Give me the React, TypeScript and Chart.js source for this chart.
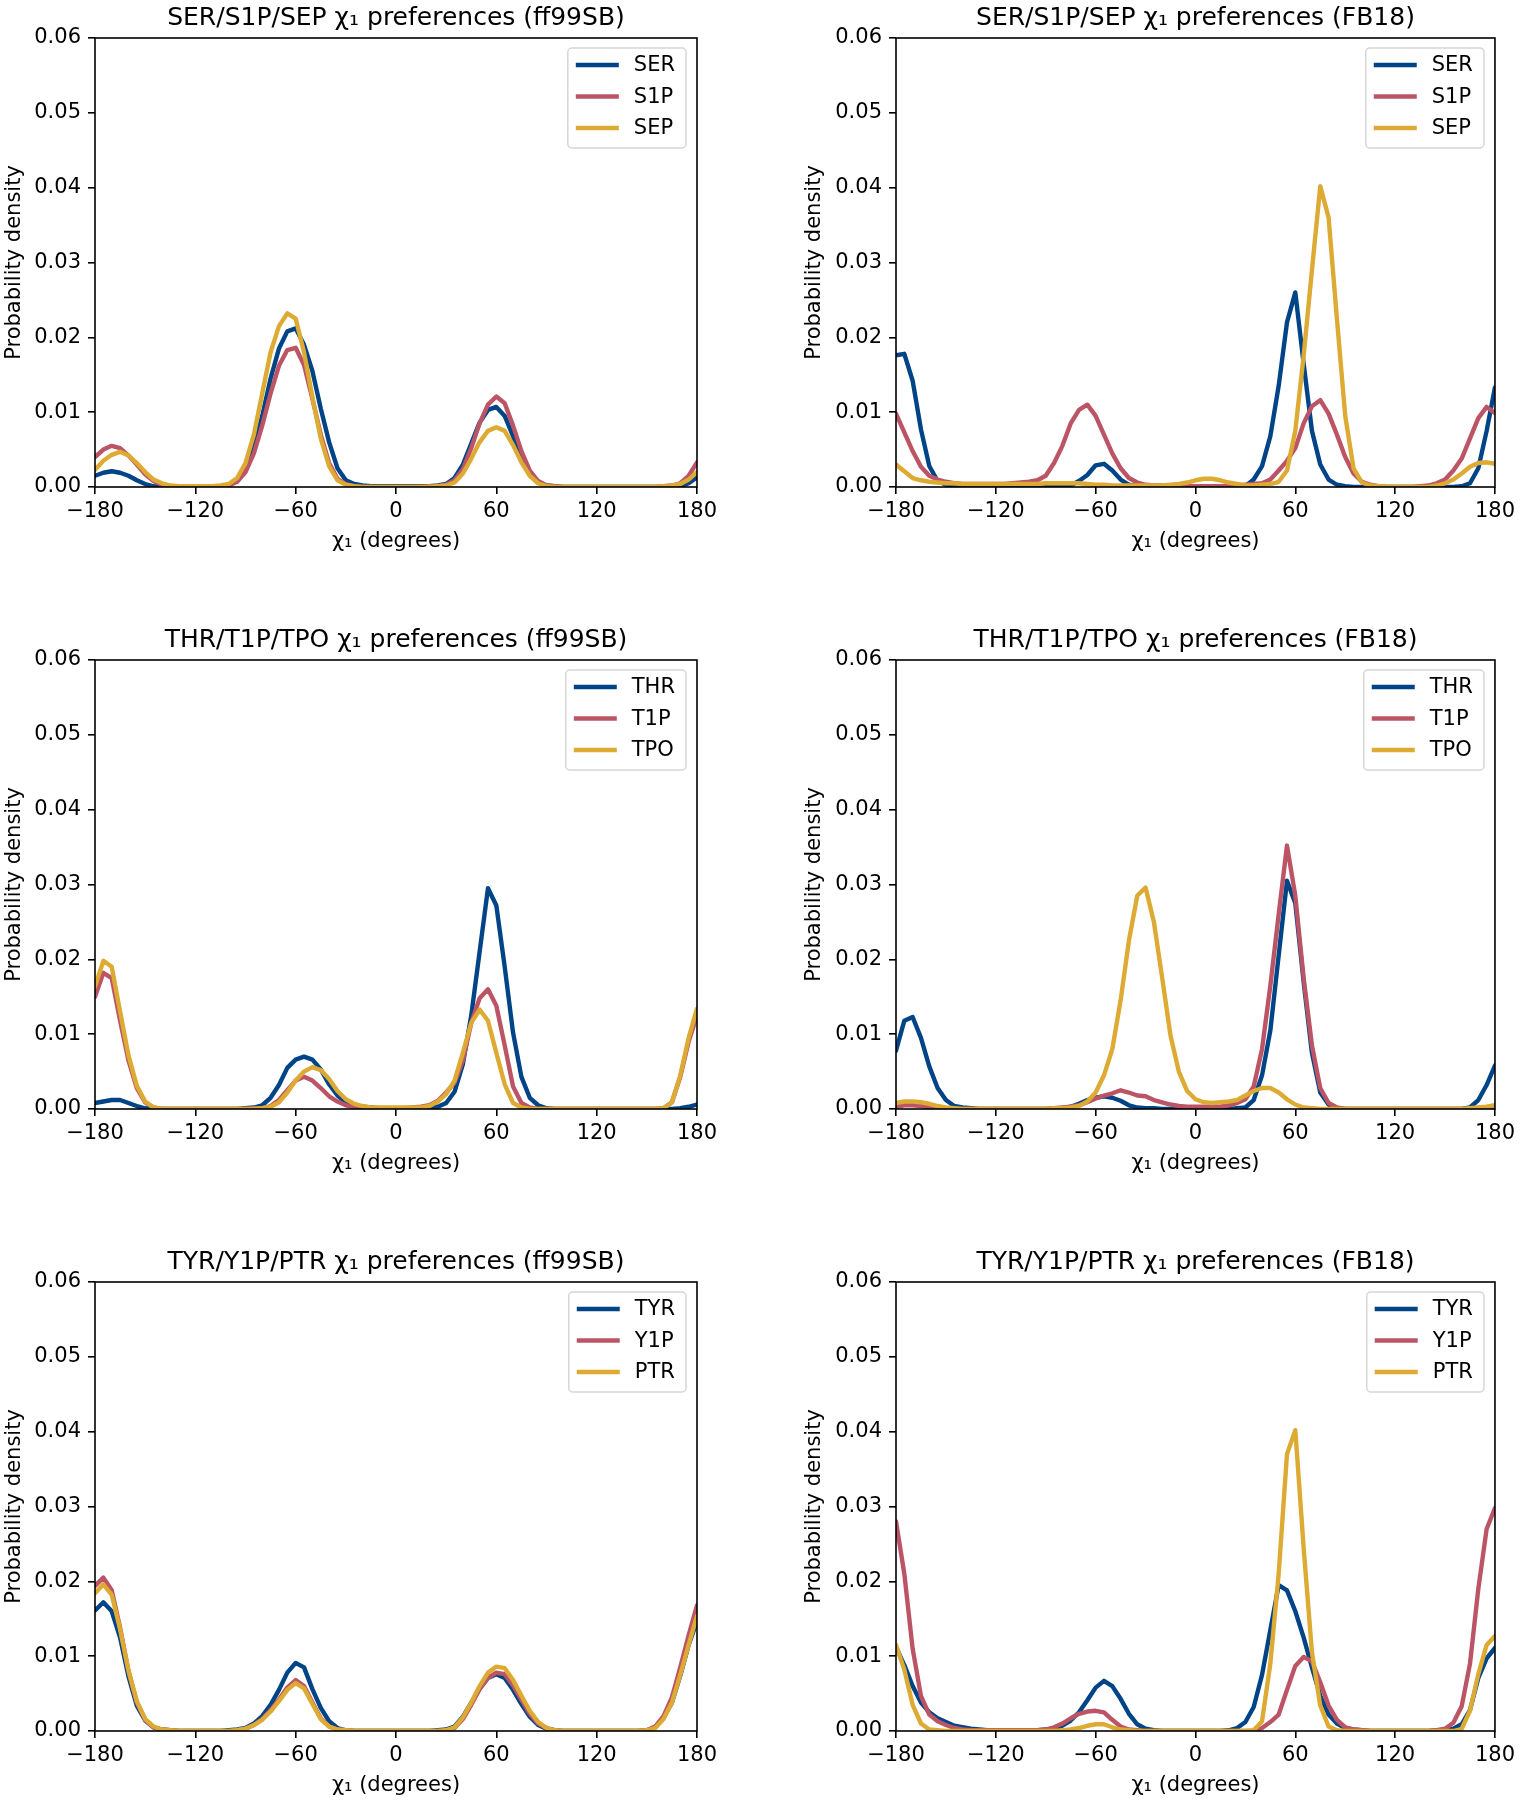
import React, { useEffect, useRef } from "react";
import { Chart, registerables } from "chart.js";

Chart.register(...registerables);

const FONT = "DejaVu Sans";
Chart.defaults.font.family = FONT;
Chart.defaults.color = "#000";

// chi1 angle grid (degrees)
const CHI = [
  -180, -175, -170, -165, -160, -155, -150, -145, -140, -135,
  -130, -125, -120, -115, -110, -105, -100, -95, -90, -85,
  -80, -75, -70, -65, -60, -55, -50, -45, -40, -35,
  -30, -25, -20, -15, -10, -5, 0, 5, 10, 15,
  20, 25, 30, 35, 40, 45, 50, 55, 60, 65,
  70, 75, 80, 85, 90, 95, 100, 105, 110, 115,
  120, 125, 130, 135, 140, 145, 150, 155, 160, 165,
  170, 175, 180,
];

const X_TICKS = [-180, -120, -60, 0, 60, 120, 180];
const Y_TICKS = [0, 0.01, 0.02, 0.03, 0.04, 0.05, 0.06];

// ---------- SER / S1P / SEP (ff99SB) ----------
const SER_FF = [
  0.0015, 0.0019, 0.0021, 0.0019, 0.0015, 0.0009, 0.0004, 0.0001, 0, 0,
  0, 0, 0, 0, 0, 0.0001, 0.0003, 0.0009, 0.0025, 0.0055,
  0.0095, 0.0145, 0.0185, 0.0208, 0.0212, 0.019, 0.0155, 0.0105, 0.006, 0.0025,
  0.0009, 0.0004, 0.0002, 0.0001, 0.0001, 0.0001, 0.0001, 0.0001, 0.0001, 0.0001,
  0.0001, 0.0002, 0.0004, 0.0012, 0.003, 0.0058, 0.0086, 0.0103, 0.0107, 0.0095,
  0.0068, 0.0038, 0.0016, 0.0006, 0.0002, 0.0001, 0, 0, 0, 0,
  0, 0, 0, 0, 0, 0, 0, 0, 0, 0.0001,
  0.0001, 0.0005, 0.0013,
];
const S1P_FF = [
  0.004, 0.005, 0.0055, 0.0052, 0.0042, 0.003, 0.0017, 0.0008, 0.0003, 0.0001,
  0, 0, 0, 0, 0, 0.0001, 0.0002, 0.0007, 0.002, 0.0045,
  0.0082, 0.0125, 0.0162, 0.0183, 0.0186, 0.0163, 0.0118, 0.007, 0.0032, 0.0011,
  0.0004, 0.0001, 0, 0, 0, 0, 0, 0, 0, 0,
  0.0001, 0.0001, 0.0003, 0.0009, 0.0024, 0.0052, 0.0085, 0.011, 0.0121, 0.0112,
  0.0082, 0.0048, 0.0022, 0.0008, 0.0002, 0.0001, 0, 0, 0, 0,
  0, 0, 0, 0, 0, 0, 0, 0, 0.0001, 0.0002,
  0.0005, 0.0015, 0.0033,
];
const SEP_FF = [
  0.0023, 0.0035, 0.0043, 0.0047, 0.0042, 0.0032, 0.002, 0.001, 0.0005, 0.0002,
  0.0001, 0.0001, 0.0001, 0.0001, 0.0001, 0.0002, 0.0004, 0.0012, 0.0032, 0.007,
  0.0125, 0.018, 0.0215, 0.0232, 0.0225, 0.018, 0.012, 0.0065, 0.0028, 0.0009,
  0.0003, 0.0001, 0, 0, 0, 0, 0, 0, 0, 0,
  0, 0.0001, 0.0002, 0.0006, 0.0018, 0.0038, 0.006, 0.0075, 0.008, 0.0075,
  0.0056, 0.0033, 0.0015, 0.0005, 0.0001, 0, 0, 0, 0, 0,
  0, 0, 0, 0, 0, 0, 0, 0, 0.0001, 0.0002,
  0.0004, 0.001, 0.002,
];

// ---------- SER / S1P / SEP (FB18) ----------
const SER_FB = [
  0.0176, 0.0178, 0.0142, 0.0077, 0.0028, 0.0008, 0.0003, 0.0001, 0, 0,
  0, 0, 0, 0, 0, 0, 0, 0, 0, 0,
  0, 0.0002, 0.0008, 0.0016, 0.0029, 0.0031, 0.0022, 0.001, 0.0003, 0.0001,
  0, 0, 0, 0, 0, 0, 0, 0, 0, 0,
  0, 0, 0.0001, 0.001, 0.0028, 0.0068, 0.0135, 0.022, 0.026, 0.0165,
  0.0075, 0.003, 0.001, 0.0003, 0.0001, 0, 0, 0, 0, 0,
  0, 0, 0, 0, 0, 0, 0, 0, 0.0001, 0.0005,
  0.0025, 0.0075, 0.0133,
];
const S1P_FB = [
  0.0098, 0.0073, 0.0048, 0.0027, 0.0015, 0.001, 0.0007, 0.0005, 0.0004, 0.0004,
  0.0004, 0.0004, 0.0004, 0.0004, 0.0005, 0.0006, 0.0007, 0.0009, 0.0015, 0.0032,
  0.0055, 0.0085, 0.0103, 0.011, 0.0095, 0.007, 0.0045, 0.0025, 0.0012, 0.0006,
  0.0003, 0.0002, 0.0002, 0.0001, 0.0001, 0.0001, 0.0001, 0.0001, 0.0001, 0.0001,
  0.0001, 0.0002, 0.0003, 0.0004, 0.0005, 0.001, 0.0022, 0.0035, 0.0052, 0.0085,
  0.0108, 0.0116, 0.0098, 0.007, 0.004, 0.0018, 0.0007, 0.0003, 0.0001, 0,
  0, 0, 0, 0.0001, 0.0002, 0.0005, 0.001, 0.0022, 0.0038, 0.0065,
  0.0092, 0.0107, 0.0099,
];
const SEP_FB = [
  0.003, 0.0021, 0.0012, 0.0009, 0.0007, 0.0006, 0.0005, 0.0005, 0.0004, 0.0004,
  0.0004, 0.0004, 0.0004, 0.0004, 0.0004, 0.0004, 0.0004, 0.0004, 0.0005, 0.0005,
  0.0005, 0.0005, 0.0005, 0.0004, 0.0003, 0.0003, 0.0002, 0.0002, 0.0002, 0.0002,
  0.0002, 0.0002, 0.0002, 0.0003, 0.0004, 0.0006, 0.0009, 0.0011, 0.0011, 0.0009,
  0.0006, 0.0004, 0.0002, 0.0002, 0.0003, 0.0004, 0.0007, 0.0022, 0.0075, 0.0175,
  0.029, 0.0402, 0.036, 0.0225, 0.0095, 0.0025, 0.0006, 0.0002, 0.0001, 0,
  0, 0, 0, 0, 0, 0.0002, 0.0005, 0.001, 0.0018, 0.0027,
  0.0032, 0.0033, 0.0031,
];

// ---------- THR / T1P / TPO (ff99SB) ----------
const THR_FF = [
  0.0008, 0.001, 0.0012, 0.0012, 0.0008, 0.0004, 0.0001, 0, 0, 0,
  0, 0, 0, 0, 0, 0, 0, 0, 0.0001, 0.0002,
  0.0005, 0.0015, 0.0032, 0.0055, 0.0066, 0.007, 0.0066, 0.0053, 0.0033, 0.0018,
  0.0009, 0.0005, 0.0003, 0.0002, 0.0001, 0.0001, 0.0001, 0.0001, 0.0001, 0.0001,
  0.0001, 0.0003, 0.0008, 0.0023, 0.006, 0.0125, 0.021, 0.0295, 0.0272, 0.019,
  0.0102, 0.0043, 0.0015, 0.0005, 0.0001, 0, 0, 0, 0, 0,
  0, 0, 0, 0, 0, 0, 0, 0, 0, 0,
  0.0001, 0.0003, 0.0006,
];
const T1P_FF = [
  0.015, 0.0182, 0.0175, 0.0118, 0.0065, 0.0028, 0.0009, 0.0002, 0, 0,
  0, 0, 0, 0, 0, 0, 0, 0, 0, 0.0001,
  0.0001, 0.0004, 0.0012, 0.0025, 0.0038, 0.0043, 0.0038, 0.0028, 0.0017, 0.001,
  0.0005, 0.0003, 0.0002, 0.0001, 0.0001, 0.0001, 0.0001, 0.0001, 0.0002, 0.0003,
  0.0005, 0.0011, 0.0022, 0.0035, 0.0065, 0.0115, 0.0148, 0.016, 0.0138, 0.0085,
  0.003, 0.0008, 0.0002, 0, 0, 0, 0, 0, 0, 0,
  0, 0, 0, 0, 0, 0, 0, 0, 0.0001, 0.0009,
  0.0043, 0.009, 0.0125,
];
const TPO_FF = [
  0.0164, 0.0198, 0.019, 0.013, 0.0072, 0.0031, 0.001, 0.0002, 0, 0,
  0, 0, 0, 0, 0, 0, 0, 0, 0, 0,
  0.0001, 0.0003, 0.0009, 0.0022, 0.0038, 0.005, 0.0056, 0.0052, 0.004, 0.0024,
  0.0013, 0.0007, 0.0004, 0.0002, 0.0002, 0.0002, 0.0002, 0.0002, 0.0002, 0.0002,
  0.0004, 0.001, 0.002, 0.0038, 0.0075, 0.0115, 0.0133, 0.0118, 0.0075, 0.0033,
  0.0008, 0.0002, 0, 0, 0, 0, 0, 0, 0, 0,
  0, 0, 0, 0, 0, 0, 0, 0, 0.0001, 0.0009,
  0.0045, 0.0095, 0.0134,
];

// ---------- THR / T1P / TPO (FB18) ----------
const THR_FB = [
  0.0078, 0.0118, 0.0123, 0.0095, 0.0057, 0.0028, 0.0012, 0.0004, 0.0002, 0.0001,
  0, 0, 0, 0, 0, 0, 0, 0, 0, 0,
  0.0001, 0.0003, 0.0007, 0.0012, 0.0015, 0.0017, 0.0015, 0.0011, 0.0005, 0.0002,
  0.0001, 0.0001, 0, 0, 0, 0, 0, 0, 0, 0,
  0, 0.0001, 0.0002, 0.0012, 0.0045, 0.0105, 0.0205, 0.0305, 0.0275, 0.017,
  0.0075, 0.0022, 0.0006, 0.0001, 0, 0, 0, 0, 0, 0,
  0, 0, 0, 0, 0, 0, 0, 0, 0, 0.0002,
  0.0012, 0.0032, 0.0058,
];
const T1P_FB = [
  0.0003, 0.0005, 0.0005, 0.0004, 0.0002, 0.0001, 0, 0, 0, 0,
  0, 0, 0, 0, 0, 0, 0, 0, 0, 0.0001,
  0.0002, 0.0003, 0.0005, 0.0009, 0.0014, 0.0018, 0.0021, 0.0025, 0.0022, 0.0018,
  0.0017, 0.0012, 0.0009, 0.0006, 0.0004, 0.0003, 0.0003, 0.0003, 0.0003, 0.0003,
  0.0005, 0.0008, 0.0013, 0.003, 0.008, 0.0165, 0.026, 0.0352, 0.0285, 0.0175,
  0.0085, 0.0028, 0.0008, 0.0002, 0, 0, 0, 0, 0, 0,
  0, 0, 0, 0, 0, 0, 0, 0, 0, 0,
  0, 0.0001, 0.0001,
];
const TPO_FB = [
  0.0008, 0.001, 0.001, 0.0009, 0.0007, 0.0004, 0.0002, 0.0001, 0, 0,
  0, 0, 0, 0, 0, 0, 0, 0, 0, 0.0001,
  0.0001, 0.0002, 0.0004, 0.001, 0.0022, 0.0045, 0.008, 0.0145, 0.0225, 0.0285,
  0.0296, 0.025, 0.0175, 0.0098, 0.005, 0.0024, 0.0013, 0.0009, 0.0008, 0.0009,
  0.001, 0.0012, 0.0018, 0.0024, 0.0028, 0.0028, 0.0022, 0.0013, 0.0006, 0.0002,
  0.0001, 0, 0, 0, 0, 0, 0, 0, 0, 0,
  0, 0, 0, 0, 0, 0, 0, 0, 0, 0.0001,
  0.0002, 0.0003, 0.0005,
];

// ---------- TYR / Y1P / PTR (ff99SB) ----------
const TYR_FF = [
  0.0161, 0.0172, 0.016, 0.0125, 0.0073, 0.0034, 0.0014, 0.0005, 0.0002, 0.0001,
  0, 0, 0, 0, 0, 0, 0.0001, 0.0002, 0.0004, 0.001,
  0.002, 0.0035, 0.0055, 0.0078, 0.0091, 0.0085, 0.0056, 0.0031, 0.0013, 0.0004,
  0.0001, 0, 0, 0, 0, 0, 0, 0, 0, 0,
  0, 0.0001, 0.0002, 0.0006, 0.0019, 0.0038, 0.0057, 0.0071, 0.0076, 0.0071,
  0.0055, 0.0036, 0.0019, 0.0008, 0.0003, 0.0001, 0, 0, 0, 0,
  0, 0, 0, 0, 0, 0, 0.0001, 0.0005, 0.0018, 0.0038,
  0.0074, 0.0115, 0.0147,
];
const Y1P_FF = [
  0.0194, 0.0205, 0.0188, 0.0138, 0.008, 0.0038, 0.0015, 0.0005, 0.0002, 0.0001,
  0, 0, 0, 0, 0, 0, 0, 0.0001, 0.0003, 0.0008,
  0.0016, 0.0028, 0.0042, 0.0058, 0.0068, 0.006, 0.0038, 0.0017, 0.0006, 0.0002,
  0.0001, 0, 0, 0, 0, 0, 0, 0, 0, 0,
  0, 0, 0.0001, 0.0004, 0.0016, 0.0035, 0.0056, 0.0071, 0.0078, 0.0076,
  0.0061, 0.0042, 0.0023, 0.001, 0.0004, 0.0001, 0, 0, 0, 0,
  0, 0, 0, 0, 0, 0, 0.0001, 0.0006, 0.002, 0.0045,
  0.0085, 0.0128, 0.0168,
];
const PTR_FF = [
  0.0184, 0.0196, 0.0182, 0.0136, 0.0081, 0.004, 0.0016, 0.0006, 0.0002, 0.0001,
  0, 0, 0, 0, 0, 0, 0, 0.0001, 0.0003, 0.0008,
  0.0015, 0.0026, 0.004, 0.0055, 0.0064, 0.0057, 0.0036, 0.0016, 0.0006, 0.0002,
  0.0001, 0, 0, 0, 0, 0, 0, 0, 0, 0,
  0, 0, 0.0001, 0.0005, 0.0018, 0.0038, 0.006, 0.0078, 0.0086, 0.0084,
  0.0068, 0.0047, 0.0027, 0.0012, 0.0004, 0.0001, 0, 0, 0, 0,
  0, 0, 0, 0, 0, 0, 0.0001, 0.0004, 0.0016, 0.0038,
  0.0075, 0.0115, 0.0154,
];

// ---------- TYR / Y1P / PTR (FB18) ----------
const TYR_FB = [
  0.0112, 0.0088, 0.006, 0.0038, 0.0025, 0.0017, 0.0012, 0.0007, 0.0005, 0.0003,
  0.0002, 0.0001, 0.0001, 0.0001, 0.0001, 0.0001, 0.0001, 0.0001, 0.0002, 0.0003,
  0.0007, 0.0014, 0.0025, 0.0041, 0.0058, 0.0067, 0.006, 0.0043, 0.0023, 0.0009,
  0.0003, 0.0001, 0, 0, 0, 0, 0, 0, 0, 0,
  0.0001, 0.0004, 0.0012, 0.0032, 0.0075, 0.0135, 0.0195, 0.0188, 0.016, 0.0125,
  0.0085, 0.0047, 0.0022, 0.001, 0.0004, 0.0002, 0.0001, 0, 0, 0,
  0, 0, 0, 0, 0, 0.0001, 0.0001, 0.0003, 0.0009, 0.0028,
  0.0071, 0.0097, 0.0111,
];
const Y1P_FB = [
  0.028, 0.021, 0.011, 0.0047, 0.0022, 0.0013, 0.0008, 0.0004, 0.0002, 0.0001,
  0.0001, 0.0001, 0.0001, 0.0001, 0.0001, 0.0001, 0.0001, 0.0001, 0.0002, 0.0005,
  0.001, 0.0017, 0.0023, 0.0026, 0.0027, 0.0025, 0.0015, 0.0006, 0.0002, 0.0001,
  0, 0, 0, 0, 0, 0, 0, 0, 0, 0,
  0, 0, 0, 0, 0.0004, 0.0012, 0.0022, 0.0055, 0.0087, 0.0099,
  0.0093, 0.0065, 0.0034, 0.0015, 0.0005, 0.0002, 0.0001, 0, 0, 0,
  0, 0, 0, 0, 0, 0.0001, 0.0003, 0.0011, 0.0033, 0.009,
  0.019, 0.027, 0.0298,
];
const PTR_FB = [
  0.0115, 0.0082, 0.0035, 0.001, 0.0002, 0.0001, 0, 0, 0, 0,
  0, 0, 0, 0, 0, 0, 0, 0, 0, 0,
  0.0001, 0.0002, 0.0004, 0.0007, 0.0009, 0.0009, 0.0005, 0.0002, 0.0001, 0,
  0, 0, 0, 0, 0, 0, 0, 0, 0, 0,
  0, 0, 0, 0.0001, 0.0013, 0.009, 0.021, 0.037, 0.0402, 0.0245,
  0.0105, 0.0034, 0.0006, 0.0001, 0, 0, 0, 0, 0, 0,
  0, 0, 0, 0, 0, 0, 0, 0, 0.0003, 0.0027,
  0.0076, 0.0115, 0.0127,
];

const SER_LABELS = ["SER", "S1P", "SEP"];
const THR_LABELS = ["THR", "T1P", "TPO"];
const TYR_LABELS = ["TYR", "Y1P", "PTR"];

const COLORS = ["#004488", "#BB5566", "#DDAA33"];

const TITLES = [
  "SER/S1P/SEP \u03c7\u2081 preferences (ff99SB)",
  "SER/S1P/SEP \u03c7\u2081 preferences (FB18)",
  "THR/T1P/TPO \u03c7\u2081 preferences (ff99SB)",
  "THR/T1P/TPO \u03c7\u2081 preferences (FB18)",
  "TYR/Y1P/PTR \u03c7\u2081 preferences (ff99SB)",
  "TYR/Y1P/PTR \u03c7\u2081 preferences (FB18)",
];

const X_LABEL = "\u03c7\u2081 (degrees)";
const Y_LABEL = "Probability density";

type PanelDef = {
  title: string;
  labels: string[];
  series: number[][];
  col: number;
  row: number;
};

const PANELS: PanelDef[] = [
  { title: TITLES[0], labels: SER_LABELS, series: [SER_FF, S1P_FF, SEP_FF], col: 0, row: 0 },
  { title: TITLES[1], labels: SER_LABELS, series: [SER_FB, S1P_FB, SEP_FB], col: 1, row: 0 },
  { title: TITLES[2], labels: THR_LABELS, series: [THR_FF, T1P_FF, TPO_FF], col: 0, row: 1 },
  { title: TITLES[3], labels: THR_LABELS, series: [THR_FB, T1P_FB, TPO_FB], col: 1, row: 1 },
  { title: TITLES[4], labels: TYR_LABELS, series: [TYR_FF, Y1P_FF, PTR_FF], col: 0, row: 2 },
  { title: TITLES[5], labels: TYR_LABELS, series: [TYR_FB, Y1P_FB, PTR_FB], col: 1, row: 2 },
];

const CANVAS_W = 760;
const CANVAS_H = 556;
const ROW_STEP = 622;
const TICK_SIZE = 21;
const TITLE_SIZE = 25;

function fmtX(v: number | string) {
  const n = Number(v);
  return n < 0 ? "\u2212" + Math.abs(n) : String(n);
}

function Panel({ def }: { def: PanelDef }) {
  const ref = useRef<HTMLCanvasElement>(null);

  useEffect(() => {
    const canvas = ref.current;
    if (!canvas) return;
    const padLeft = def.col === 0 ? 0 : 40;
    const yWidth = def.col === 0 ? 95 : 96;
    const chartRight = def.col === 0 ? 697 : 737;

    const framePlugin = {
      id: "frameBox",
      afterDatasetsDraw(chart: any) {
        const { ctx, chartArea: a } = chart;
        ctx.save();
        ctx.strokeStyle = "#000";
        ctx.lineWidth = 1.6;
        ctx.strokeRect(a.left, a.top, a.right - a.left, a.bottom - a.top);
        ctx.restore();
      },
    };

    const legendPlugin = {
      id: "insetLegend",
      afterDraw(chart: any) {
        const { ctx, chartArea: a } = chart;
        ctx.save();
        ctx.font = `${TICK_SIZE}px "${FONT}"`;
        const tw = Math.max(...def.labels.map((l) => ctx.measureText(l).width));
        const w = tw + 77;
        const h = 100;
        const right = a.right - 11;
        const top = a.top + 10;
        const left = right - w;
        const r = 4;
        ctx.beginPath();
        ctx.moveTo(left + r, top);
        ctx.lineTo(right - r, top);
        ctx.arcTo(right, top, right, top + r, r);
        ctx.lineTo(right, top + h - r);
        ctx.arcTo(right, top + h, right - r, top + h, r);
        ctx.lineTo(left + r, top + h);
        ctx.arcTo(left, top + h, left, top + h - r, r);
        ctx.lineTo(left, top + r);
        ctx.arcTo(left, top, left + r, top, r);
        ctx.closePath();
        ctx.fillStyle = "rgba(255,255,255,0.8)";
        ctx.fill();
        ctx.strokeStyle = "#d6d6d6";
        ctx.lineWidth = 1.5;
        ctx.stroke();
        def.labels.forEach((lab, i) => {
          const y = top + 17 + i * 31.5;
          ctx.beginPath();
          ctx.moveTo(left + 8, y);
          ctx.lineTo(left + 51, y);
          ctx.strokeStyle = COLORS[i];
          ctx.lineWidth = 4.4;
          ctx.lineCap = "butt";
          ctx.stroke();
          ctx.fillStyle = "#000";
          ctx.textBaseline = "middle";
          ctx.textAlign = "left";
          ctx.fillText(lab, left + 66, y + 1);
        });
        ctx.restore();
      },
    };

    const tickFont = { family: FONT, size: TICK_SIZE };

    const chart = new Chart(canvas, {
      type: "line",
      data: {
        datasets: def.series.map((s, i) => ({
          label: def.labels[i],
          data: CHI.map((x, j) => ({ x, y: s[j] })),
          borderColor: COLORS[i],
          backgroundColor: COLORS[i],
          borderWidth: 4.4,
          pointRadius: 0,
          tension: 0,
          fill: false,
          order: 3 - i,
          borderJoinStyle: "round" as const,
          borderCapStyle: "round" as const,
        })),
      },
      options: {
        responsive: false,
        animation: false,
        events: [],
        layout: {
          padding: { left: padLeft, right: CANVAS_W - chartRight, top: 0, bottom: 0 },
        },
        plugins: {
          legend: { display: false },
          tooltip: { enabled: false },
          title: {
            display: true,
            text: def.title,
            fullSize: false,
            color: "#000",
            font: { family: FONT, size: TITLE_SIZE, weight: "normal" },
            padding: { top: 3, bottom: 5 },
          },
        },
        scales: {
          x: {
            type: "linear",
            min: -180,
            max: 180,
            afterBuildTicks: (scale: any) => {
              scale.ticks = X_TICKS.map((v) => ({ value: v }));
            },
            ticks: {
              callback: (v: any) => fmtX(v),
              autoSkip: false,
              maxRotation: 0,
              minRotation: 0,
              padding: 5,
              color: "#000",
              font: tickFont,
            },
            grid: {
              drawOnChartArea: false,
              drawTicks: true,
              tickLength: 7,
              color: "#000",
              lineWidth: 1.6,
            },
            border: { display: false },
            title: {
              display: true,
              text: X_LABEL,
              color: "#000",
              font: tickFont,
              padding: { top: 0, bottom: 2 },
            },
            afterFit: (scale: any) => {
              scale.height = 69;
            },
          },
          y: {
            type: "linear",
            min: 0,
            max: 0.06,
            afterBuildTicks: (scale: any) => {
              scale.ticks = Y_TICKS.map((v) => ({ value: v }));
            },
            ticks: {
              callback: (v: any) => Number(v).toFixed(2),
              padding: 7,
              color: "#000",
              font: tickFont,
            },
            grid: {
              drawOnChartArea: false,
              drawTicks: true,
              tickLength: 7,
              color: "#000",
              lineWidth: 1.6,
            },
            border: { display: false },
            title: {
              display: true,
              text: Y_LABEL,
              color: "#000",
              font: tickFont,
              padding: { top: 2, bottom: 0 },
            },
            afterFit: (scale: any) => {
              scale.width = yWidth;
            },
          },
        },
      } as any,
      plugins: [framePlugin, legendPlugin],
    });
    return () => chart.destroy();
  }, [def]);

  return (
    <canvas
      ref={ref}
      width={CANVAS_W}
      height={CANVAS_H}
      style={{
        position: "absolute",
        left: def.col * CANVAS_W,
        top: def.row * ROW_STEP,
        width: CANVAS_W,
        height: CANVAS_H,
      }}
    />
  );
}

export default function App() {
  return (
    <div
      style={{
        position: "absolute",
        left: 0,
        top: 0,
        width: 1520,
        height: 1800,
        overflow: "hidden",
        background: "#fff",
      }}
    >
      {PANELS.map((p, i) => (
        <Panel key={i} def={p} />
      ))}
    </div>
  );
}
